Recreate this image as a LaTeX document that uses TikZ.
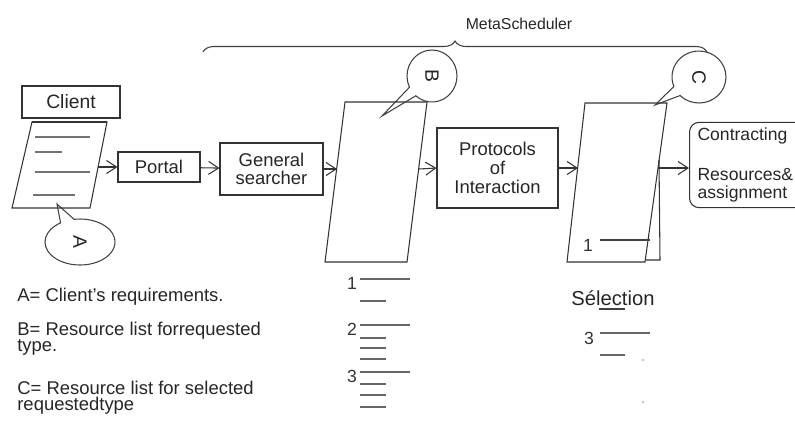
\documentclass[tikz,border=0pt]{standalone}
\usepackage{fontspec}
\setmainfont{Liberation Sans}
\usepackage{tikz}
\usetikzlibrary{arrows.meta, shapes.callouts, decorations.pathreplacing}
\tikzstyle{box} = [rectangle, draw=black!80, line width=0.6pt, text=black!85, align=center, font=\fontsize{10.5}{10.2}\selectfont]
\tikzstyle{doc} = [draw=black!80, line width=0.6pt]
\tikzstyle{bubble} = [ellipse callout, draw=black!75, line width=0.6pt, callout pointer arc=24, text=black!85, font=\fontsize{11}{12}\selectfont]
\tikzstyle{arrow} = [draw=black!80, line width=0.6pt, -{Straight Barb[length=2mm, width=2.6mm]}]
\tikzstyle{rule} = [black!60, line width=1.2pt]
\tikzstyle{legend} = [anchor=west, inner sep=0pt, text=black!85, align=left, font=\fontsize{10.5}{9.3}\selectfont]
\tikzstyle{num} = [text=black!80, font=\fontsize{10}{10}\selectfont]

\begin{document}
\begin{tikzpicture}[x=0.02cm, y=-0.02cm]
\useasboundingbox (0,0) rectangle (795,441);

% Brace over the scheduler part
\draw [black!75, line width=0.6pt, decorate, decoration={brace, amplitude=0.22cm}] (203,52) -- (707,52);
\node (meta) [text=black!85, font=\fontsize{9}{10}\selectfont] at (519,24) {MetaScheduler};

% Boxes
\node (client) [box, minimum width=1.96cm, minimum height=0.64cm, font=\fontsize{11}{12}\selectfont] at (71,102) {Client};
\node (portal) [box, minimum width=1.64cm, minimum height=0.6cm] at (159,167) {Portal};
\node (searcher) [box, minimum width=2.06cm, minimum height=1.04cm] at (271.5,169) {General\\searcher};
\node (protocols) [box, minimum width=2.42cm, minimum height=1.6cm, font=\fontsize{10.5}{10.8}\selectfont] at (497.5,168) {Protocols\\of\\Interaction};
\node (contracting) [box, rounded corners=5.5pt, anchor=west, text width=2.3cm, inner xsep=0.16cm, minimum height=1.68cm, align=left, font=\fontsize{10}{9.8}\selectfont] at (689,165) {Contracting\\[13pt]Resources\&\\assignment};

% Client's requirements sheet
\draw [doc] (32,122) -- (107,122) -- (90,208) -- (12,208) -- cycle;
\draw [black!80, line width=1.2pt] (32,122) -- (107,122);
\draw [rule, black!55] (35,137) -- (90,137);
\draw [rule, black!55] (35,152) -- (62,152);
\draw [rule, black!55] (35,172) -- (90,172);
\draw [rule, black!55] (33,195) -- (75,195);
\coordinate (docA) at (98,167);

% Resource list sheet
\draw [doc] (345,102) -- (427,102) -- (407,262) -- (325,262) -- cycle;
\coordinate (docBin) at (337,169);
\coordinate (docBout) at (419,169);

% Selected resources sheet (with the page behind it)
\draw [doc] (585,103) -- (667,103) -- (645,262) -- (567,262) -- cycle;
\draw [doc] (659,160) -- (660,260) -- (646,260);
\coordinate (docCin) at (578,168);
\coordinate (docCout) at (658,168);
\node (c1) [num] at (588,245) {1};
\draw [black!75, line width=0.9pt] (600,240) -- (650,240);

% Callouts
\node (bubbleA) [bubble, minimum width=1.4cm, minimum height=0.92cm, callout absolute pointer={(57,204)}] at (80,242) {\rotatebox{-90}{A}};
\node (bubbleB) [bubble, minimum width=1.0cm, minimum height=1.04cm, callout absolute pointer={(382,116)}] at (432,76) {\rotatebox{-90}{B}};
\node (bubbleC) [bubble, minimum width=1.08cm, minimum height=1.04cm, callout absolute pointer={(655,105)}] at (699,77) {\rotatebox{-90}{C}};

% Arrows
\draw [arrow] (docA) -- (portal.west);
\draw [arrow] (portal) -- (searcher);
\draw [arrow] (searcher.east) -- (docBin);
\draw [arrow] (docBout) -- (protocols.west);
\draw [arrow] (protocols.east) -- (docCin);
\draw [arrow] (docCout) -- (contracting.west |- docCout);

% Lists under the sheets
\node (b1) [num] at (352,283) {1};
\draw [rule] (360,279) -- (410,279);
\draw [rule] (360,301) -- (386,301);
\node (b2) [num] at (352,329) {2};
\draw [rule] (360,325) -- (410,325);
\draw [rule] (360,338) -- (386,338);
\draw [rule] (360,348) -- (386,348);
\draw [rule] (360,359) -- (386,359);
\node (b3) [num] at (352,376) {3};
\draw [rule] (360,372) -- (410,372);
\draw [rule] (360,384) -- (386,384);
\draw [rule] (360,395) -- (386,395);
\draw [rule] (360,407) -- (386,407);

\node (selection) [text=black!85, font=\fontsize{11.5}{12}\selectfont] at (613,298) {Sélection};
\draw [black!75, line width=1.5pt] (599,309) -- (625,309);
\node (s3) [num] at (589,338) {3};
\draw [rule] (600,333) -- (650,333);
\draw [rule] (600,355) -- (625,355);
\fill [black!50] (643,360) circle (0.8);
\fill [black!50] (643,402) circle (0.8);

% Legend
\node (legA) [legend] at (17,297) {A= Client's requirements.};
\node (legB) [legend] at (17,339) {B= Resource list forrequested\\type.};
\node (legC) [legend] at (17,398) {C= Resource list for selected\\requestedtype};

\end{tikzpicture}
\end{document}
